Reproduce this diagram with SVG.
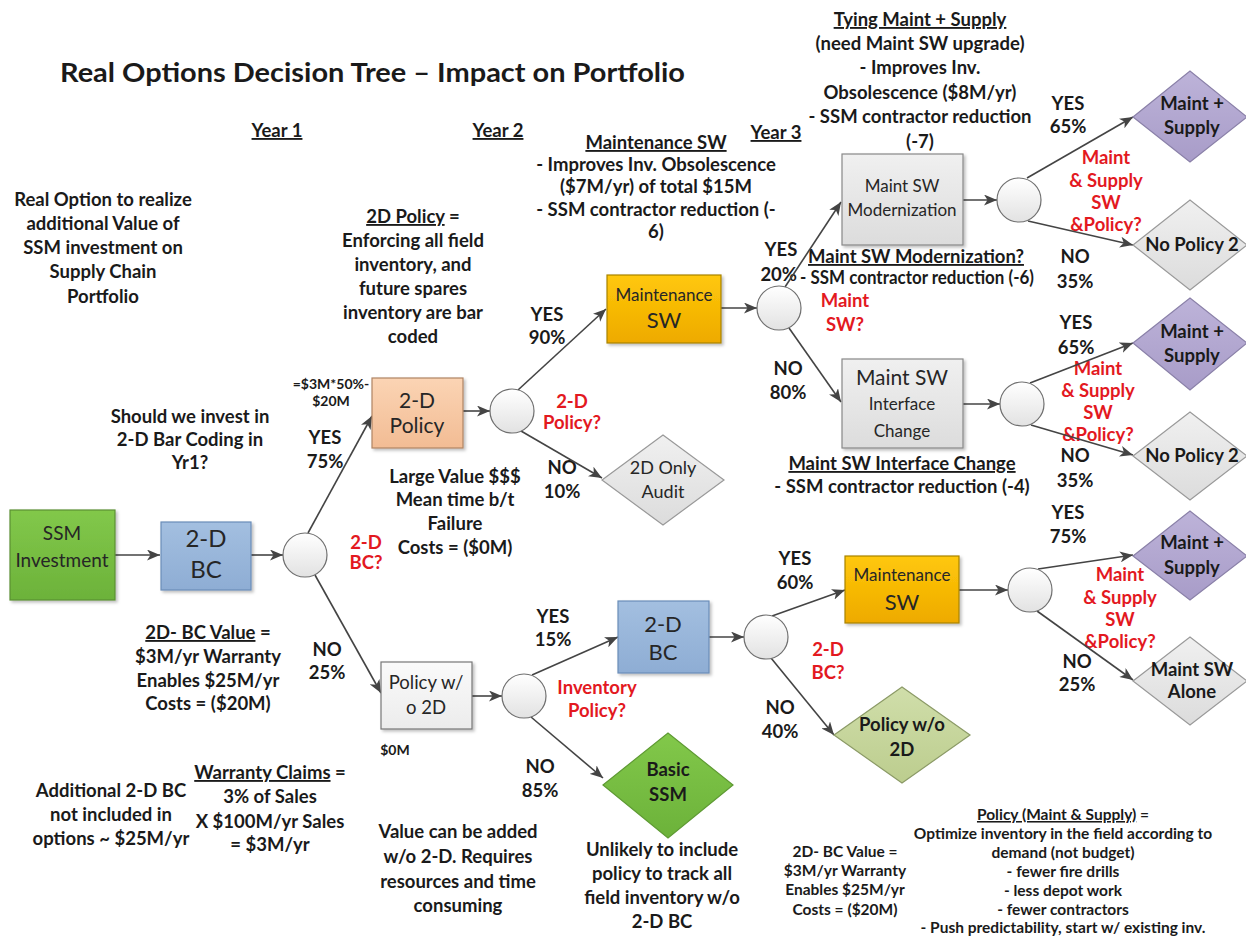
<svg xmlns="http://www.w3.org/2000/svg" width="1246" height="942" viewBox="0 0 1246 942">
<defs>
<style>
text{font-family:Lato,"Liberation Sans",sans-serif;}
.t{font-weight:700;font-size:18.5px;fill:#1a1a1a;text-anchor:middle}
.r{fill:#e3191f}
.s{font-size:14px}
.s2{font-size:15.5px}
.n{font-weight:400;fill:#262626;text-anchor:middle}
.d{font-weight:700;font-size:18.5px;fill:#1a1a1a;text-anchor:middle}
.u{text-decoration:underline}
.c{stroke:#444;stroke-width:1.6;fill:none;marker-end:url(#ah)}
.circ{fill:url(#gC);stroke:#6f6f6f;stroke-width:1.2}
.box{filter:url(#sh)}
</style>
<marker id="ah" markerWidth="14" markerHeight="11" refX="13" refY="5.5" orient="auto" markerUnits="userSpaceOnUse">
<path d="M0,0 L13,5.5 L0,11 L3.5,5.5 Z" fill="#444"/>
</marker>
<filter id="sh" x="-10%" y="-10%" width="130%" height="130%">
<feDropShadow dx="2" dy="2" stdDeviation="1.5" flood-color="#000" flood-opacity="0.25"/>
</filter>
<linearGradient id="gGreen" x1="0" y1="0" x2="0" y2="1"><stop offset="0" stop-color="#82c84a"/><stop offset="1" stop-color="#6cb23a"/></linearGradient>
<linearGradient id="gBlue" x1="0" y1="0" x2="0" y2="1"><stop offset="0" stop-color="#a3bfe0"/><stop offset="1" stop-color="#8eadd4"/></linearGradient>
<linearGradient id="gPeach" x1="0" y1="0" x2="0" y2="1"><stop offset="0" stop-color="#fbd4b4"/><stop offset="1" stop-color="#f2bc94"/></linearGradient>
<linearGradient id="gGold" x1="0" y1="0" x2="0" y2="1"><stop offset="0" stop-color="#ffc80a"/><stop offset="1" stop-color="#eeaa00"/></linearGradient>
<linearGradient id="gGray" x1="0" y1="0" x2="0" y2="1"><stop offset="0" stop-color="#f0f0f0"/><stop offset="1" stop-color="#dcdcdc"/></linearGradient>
<linearGradient id="gWhite" x1="0" y1="0" x2="0" y2="1"><stop offset="0" stop-color="#fafafa"/><stop offset="1" stop-color="#ececec"/></linearGradient>
<linearGradient id="gC" x1="0" y1="0" x2="0" y2="1"><stop offset="0" stop-color="#ffffff"/><stop offset="1" stop-color="#e2e2e2"/></linearGradient>
<linearGradient id="gLav" x1="0" y1="0" x2="0" y2="1"><stop offset="0" stop-color="#bdb3d9"/><stop offset="1" stop-color="#a89cc8"/></linearGradient>
<linearGradient id="gOlive" x1="0" y1="0" x2="0" y2="1"><stop offset="0" stop-color="#d0deaa"/><stop offset="1" stop-color="#bccd8e"/></linearGradient>
<linearGradient id="gBasic" x1="0" y1="0" x2="0" y2="1"><stop offset="0" stop-color="#82c84a"/><stop offset="1" stop-color="#6cb23a"/></linearGradient>
</defs>
<rect width="1246" height="942" fill="#ffffff"/>

<!-- Title and annotations -->
<g id="annotations">
<text x="60" y="82" style="font-weight:700;font-size:26px;fill:#1a1a1a" textLength="625" lengthAdjust="spacingAndGlyphs">Real Options Decision Tree – Impact on Portfolio</text>
<text class="t u" x="277" y="137">Year 1</text>
<text class="t u" x="498" y="137">Year 2</text>
<text class="t u" x="776" y="139">Year 3</text>

<text class="t" x="103" y="206">Real Option to realize</text>
<text class="t" x="103" y="230">additional Value of</text>
<text class="t" x="103" y="254">SSM investment on</text>
<text class="t" x="103" y="278">Supply Chain</text>
<text class="t" x="103" y="303">Portfolio</text>

<text class="t" x="413" y="223"><tspan class="u">2D Policy</tspan> =</text>
<text class="t" x="413" y="247">Enforcing all field</text>
<text class="t" x="413" y="271">inventory, and</text>
<text class="t" x="413" y="295">future spares</text>
<text class="t" x="413" y="319">inventory are bar</text>
<text class="t" x="413" y="343">coded</text>

<text class="t u" x="656" y="149">Maintenance SW</text>
<text class="t" x="656" y="171">- Improves Inv. Obsolescence</text>
<text class="t" x="656" y="193">($7M/yr) of total $15M</text>
<text class="t" x="656" y="216">- SSM contractor reduction (-</text>
<text class="t" x="656" y="238">6)</text>

<text class="t u" x="920" y="26">Tying Maint + Supply</text>
<text class="t" x="920" y="50">(need Maint SW upgrade)</text>
<text class="t" x="920" y="74">- Improves Inv.</text>
<text class="t" x="920" y="99">Obsolescence ($8M/yr)</text>
<text class="t" x="920" y="123">- SSM contractor reduction</text>
<text class="t" x="920" y="148">(-7)</text>

<text class="t u" x="916" y="263">Maint SW Modernization?</text>
<text class="t" x="800" y="284" style="text-anchor:start" textLength="234" lengthAdjust="spacingAndGlyphs">- SSM contractor reduction (-6)</text>

<text class="t u" x="902" y="470">Maint SW Interface Change</text>
<text class="t" x="902" y="493">- SSM contractor reduction (-4)</text>

<text class="t s" x="331" y="389">=$3M*50%-</text>
<text class="t s" x="331" y="406">$20M</text>

<text class="t" x="190" y="423">Should we invest in</text>
<text class="t" x="190" y="446">2-D Bar Coding in</text>
<text class="t" x="190" y="469">Yr1?</text>

<text class="t" x="455" y="483">Large Value $$$</text>
<text class="t" x="455" y="506">Mean time b/t</text>
<text class="t" x="455" y="530">Failure</text>
<text class="t" x="455" y="554">Costs = ($0M)</text>

<text class="t" x="208" y="639"><tspan class="u">2D- BC Value</tspan> =</text>
<text class="t" x="208" y="663">$3M/yr Warranty</text>
<text class="t" x="208" y="687">Enables $25M/yr</text>
<text class="t" x="208" y="710">Costs = ($20M)</text>

<text class="t s" x="395" y="755">$0M</text>

<text class="t" x="111" y="797">Additional 2-D BC</text>
<text class="t" x="111" y="821">not included in</text>
<text class="t" x="111" y="845">options ~ $25M/yr</text>

<text class="t" x="270" y="779"><tspan class="u">Warranty Claims</tspan> =</text>
<text class="t" x="270" y="803">3% of Sales</text>
<text class="t" x="270" y="828">X $100M/yr Sales</text>
<text class="t" x="270" y="851">= $3M/yr</text>

<text class="t" x="458" y="838">Value can be added</text>
<text class="t" x="458" y="863">w/o 2-D.  Requires</text>
<text class="t" x="458" y="888">resources and time</text>
<text class="t" x="458" y="912">consuming</text>

<text class="t" x="662" y="856">Unlikely to include</text>
<text class="t" x="662" y="880">policy to track all</text>
<text class="t" x="662" y="904">field inventory w/o</text>
<text class="t" x="662" y="928">2-D BC</text>

<text class="t s2" x="845" y="857">2D- BC Value =</text>
<text class="t s2" x="845" y="876">$3M/yr Warranty</text>
<text class="t s2" x="845" y="895">Enables $25M/yr</text>
<text class="t s2" x="845" y="915">Costs = ($20M)</text>

<text class="t s2" x="1063" y="820"><tspan class="u">Policy (Maint &amp; Supply)</tspan> =</text>
<text class="t s2" x="1063" y="839">Optimize inventory in the field according to</text>
<text class="t s2" x="1063" y="858">demand (not budget)</text>
<text class="t s2" x="1063" y="877">-  fewer fire drills</text>
<text class="t s2" x="1063" y="896">- less depot work</text>
<text class="t s2" x="1063" y="915">- fewer contractors</text>
<text class="t s2" x="1063" y="933">- Push predictability, start w/ existing inv.</text>
</g>

<!-- Branch labels -->
<g id="branch-labels">
<text class="t" x="325" y="444">YES</text><text class="t" x="325" y="468">75%</text>
<text class="t" x="327" y="656">NO</text><text class="t" x="327" y="679">25%</text>
<text class="t" x="547" y="321">YES</text><text class="t" x="547" y="344">90%</text>
<text class="t" x="562" y="474">NO</text><text class="t" x="562" y="498">10%</text>
<text class="t" x="781" y="256">YES</text><text class="t" x="797" y="281" style="text-anchor:end">20%</text>
<text class="t" x="788" y="375">NO</text><text class="t" x="788" y="399">80%</text>
<text class="t" x="1068" y="110">YES</text><text class="t" x="1068" y="133">65%</text>
<text class="t" x="1075" y="263">NO</text><text class="t" x="1075" y="288">35%</text>
<text class="t" x="1076" y="329">YES</text><text class="t" x="1076" y="354">65%</text>
<text class="t" x="1075" y="462">NO</text><text class="t" x="1075" y="487">35%</text>
<text class="t" x="553" y="623">YES</text><text class="t" x="553" y="646">15%</text>
<text class="t" x="540" y="773">NO</text><text class="t" x="540" y="797">85%</text>
<text class="t" x="795" y="565">YES</text><text class="t" x="795" y="589">60%</text>
<text class="t" x="780" y="714">NO</text><text class="t" x="780" y="738">40%</text>
<text class="t" x="1068" y="519">YES</text><text class="t" x="1068" y="543">75%</text>
<text class="t" x="1077" y="668">NO</text><text class="t" x="1077" y="691">25%</text>

<text class="t r" x="366" y="549">2-D</text><text class="t r" x="366" y="569">BC?</text>
<text class="t r" x="572" y="408">2-D</text><text class="t r" x="572" y="429">Policy?</text>
<text class="t r" x="845" y="307">Maint</text><text class="t r" x="845" y="331">SW?</text>
<text class="t r" x="1106" y="164">Maint</text><text class="t r" x="1106" y="187">&amp; Supply</text><text class="t r" x="1106" y="209">SW</text><text class="t r" x="1106" y="231">&amp;Policy?</text>
<text class="t r" x="1098" y="375">Maint</text><text class="t r" x="1098" y="397">&amp; Supply</text><text class="t r" x="1098" y="419">SW</text><text class="t r" x="1098" y="441">&amp;Policy?</text>
<text class="t r" x="597" y="694">Inventory</text><text class="t r" x="597" y="717">Policy?</text>
<text class="t r" x="828" y="656">2-D</text><text class="t r" x="828" y="679">BC?</text>
<text class="t r" x="1120" y="581">Maint</text><text class="t r" x="1120" y="604">&amp; Supply</text><text class="t r" x="1120" y="626">SW</text><text class="t r" x="1120" y="648">&amp;Policy?</text>
</g>

<!-- Connectors -->
<g id="connectors">
<line class="c" x1="115" y1="555" x2="160" y2="555"/>
<line class="c" x1="251" y1="555" x2="283" y2="555"/>
<line class="c" x1="308" y1="533" x2="372" y2="416"/>
<line class="c" x1="315" y1="575" x2="381" y2="693"/>
<line class="c" x1="463" y1="411" x2="490" y2="411"/>
<line class="c" x1="518" y1="390" x2="606" y2="309"/>
<line class="c" x1="521" y1="431" x2="602" y2="478"/>
<line class="c" x1="721" y1="308" x2="757" y2="308"/>
<line class="c" x1="785" y1="287" x2="841" y2="202"/>
<line class="c" x1="789" y1="328" x2="841" y2="402"/>
<line class="c" x1="963" y1="200" x2="997" y2="200"/>
<line class="c" x1="1027" y1="178" x2="1133" y2="117"/>
<line class="c" x1="1028" y1="221" x2="1133" y2="245"/>
<line class="c" x1="963" y1="404" x2="1000" y2="404"/>
<line class="c" x1="1030" y1="383" x2="1133" y2="343"/>
<line class="c" x1="1031" y1="425" x2="1133" y2="455"/>
<line class="c" x1="472" y1="696" x2="502" y2="696"/>
<line class="c" x1="532" y1="675" x2="618" y2="637"/>
<line class="c" x1="531" y1="717" x2="603" y2="778"/>
<line class="c" x1="709" y1="637" x2="744" y2="637"/>
<line class="c" x1="772" y1="616" x2="845" y2="590"/>
<line class="c" x1="771" y1="658" x2="834" y2="735"/>
<line class="c" x1="959" y1="590" x2="1008" y2="590"/>
<line class="c" x1="1038" y1="569" x2="1133" y2="555"/>
<line class="c" x1="1037" y1="611" x2="1133" y2="680"/>
</g>

<!-- Nodes -->
<g id="ssm-investment">
<rect class="box" x="10" y="510" width="105" height="90" fill="url(#gGreen)" stroke="#5a8f33" stroke-width="1.2"/>
<text class="n" x="62" y="540" font-size="19">SSM</text>
<text class="n" x="62" y="567" font-size="19">Investment</text>
</g>
<g id="bc1">
<rect class="box" x="161" y="522" width="90" height="68" fill="url(#gBlue)" stroke="#6a8db8" stroke-width="1.2"/>
<text class="n" x="206" y="547" font-size="24">2-D</text>
<text class="n" x="206" y="578" font-size="24">BC</text>
</g>
<g id="chance1"><circle class="circ" cx="305" cy="555" r="22"/></g>
<g id="policy2d">
<rect class="box" x="372" y="378" width="91" height="70" fill="url(#gPeach)" stroke="#b08463" stroke-width="1.2"/>
<text class="n" x="417" y="408" font-size="21">2-D</text>
<text class="n" x="417" y="433" font-size="21">Policy</text>
</g>
<g id="chance2"><circle class="circ" cx="512" cy="411" r="22"/></g>
<g id="only-audit">
<polygon points="602,480 663,435 724,480 663,525" fill="url(#gGray)" stroke="#999" stroke-width="1.2"/>
<text class="n" x="663" y="474" font-size="18">2D Only</text>
<text class="n" x="663" y="498" font-size="18">Audit</text>
</g>
<g id="maintsw1">
<rect class="box" x="607" y="275" width="114" height="68" fill="url(#gGold)" stroke="#a98300" stroke-width="1.2"/>
<text class="n" x="664" y="301" font-size="17">Maintenance</text>
<text class="n" x="664" y="328" font-size="22">SW</text>
</g>
<g id="chance3"><circle class="circ" cx="779" cy="308" r="22"/></g>
<g id="modernization">
<rect class="box" x="842" y="154" width="121" height="91" fill="url(#gGray)" stroke="#888" stroke-width="1.2"/>
<text class="n" x="902" y="192" font-size="17">Maint SW</text>
<text class="n" x="902" y="216" font-size="17">Modernization</text>
</g>
<g id="chance4"><circle class="circ" cx="1019" cy="200" r="22"/></g>
<g id="maint-supply-1">
<polygon points="1133,117 1190,71 1247,117 1190,162" fill="url(#gLav)" stroke="#8a80a8" stroke-width="1.2"/>
<text class="d" x="1192" y="110">Maint +</text>
<text class="d" x="1192" y="134">Supply</text>
</g>
<g id="nopolicy-1">
<polygon points="1133,245 1190,200 1247,245 1190,290" fill="url(#gGray)" stroke="#999" stroke-width="1.2"/>
<text class="d" x="1192" y="251">No Policy 2</text>
</g>
<g id="interface">
<rect class="box" x="842" y="359" width="121" height="89" fill="url(#gGray)" stroke="#888" stroke-width="1.2"/>
<text class="n" x="902" y="385" font-size="21">Maint SW</text>
<text class="n" x="902" y="410" font-size="17">Interface</text>
<text class="n" x="902" y="437" font-size="17">Change</text>
</g>
<g id="chance5"><circle class="circ" cx="1022" cy="404" r="22"/></g>
<g id="maint-supply-2">
<polygon points="1133,343 1190,298 1247,343 1190,390" fill="url(#gLav)" stroke="#8a80a8" stroke-width="1.2"/>
<text class="d" x="1192" y="338">Maint +</text>
<text class="d" x="1192" y="362">Supply</text>
</g>
<g id="nopolicy-2">
<polygon points="1133,456 1190,412 1247,456 1190,500" fill="url(#gGray)" stroke="#999" stroke-width="1.2"/>
<text class="d" x="1192" y="462">No Policy 2</text>
</g>
<g id="policy-wo-2d-box">
<rect class="box" x="381" y="662" width="91" height="67" fill="url(#gWhite)" stroke="#777" stroke-width="1.2"/>
<text class="n" x="426" y="689" font-size="18.5">Policy w/</text>
<text class="n" x="426" y="714" font-size="18.5">o 2D</text>
</g>
<g id="chance6"><circle class="circ" cx="524" cy="696" r="22"/></g>
<g id="basic-ssm">
<polygon points="603,785 668,733 733,785 668,838" fill="url(#gBasic)" stroke="#5e9a33" stroke-width="1.2"/>
<text class="d" x="668" y="776">Basic</text>
<text class="d" x="668" y="801">SSM</text>
</g>
<g id="bc2">
<rect class="box" x="618" y="601" width="91" height="72" fill="url(#gBlue)" stroke="#6a8db8" stroke-width="1.2"/>
<text class="n" x="663" y="632" font-size="22">2-D</text>
<text class="n" x="663" y="660" font-size="22">BC</text>
</g>
<g id="chance7"><circle class="circ" cx="766" cy="637" r="22"/></g>
<g id="policy-wo-2d-diamond">
<polygon points="834,735 902,687 970,735 902,783" fill="url(#gOlive)" stroke="#8b9a66" stroke-width="1.2"/>
<text class="d" x="902" y="731">Policy w/o</text>
<text class="d" x="902" y="756">2D</text>
</g>
<g id="maintsw2">
<rect class="box" x="845" y="556" width="114" height="67" fill="url(#gGold)" stroke="#a98300" stroke-width="1.2"/>
<text class="n" x="902" y="581" font-size="17">Maintenance</text>
<text class="n" x="902" y="610" font-size="22">SW</text>
</g>
<g id="chance8"><circle class="circ" cx="1030" cy="590" r="22"/></g>
<g id="maint-supply-3">
<polygon points="1133,556 1190,511 1247,556 1190,600" fill="url(#gLav)" stroke="#8a80a8" stroke-width="1.2"/>
<text class="d" x="1192" y="549">Maint +</text>
<text class="d" x="1192" y="574">Supply</text>
</g>
<g id="maint-sw-alone">
<polygon points="1133,681 1190,637 1247,681 1190,725" fill="url(#gGray)" stroke="#999" stroke-width="1.2"/>
<text class="d" x="1192" y="676">Maint SW</text>
<text class="d" x="1192" y="698">Alone</text>
</g>
</svg>
